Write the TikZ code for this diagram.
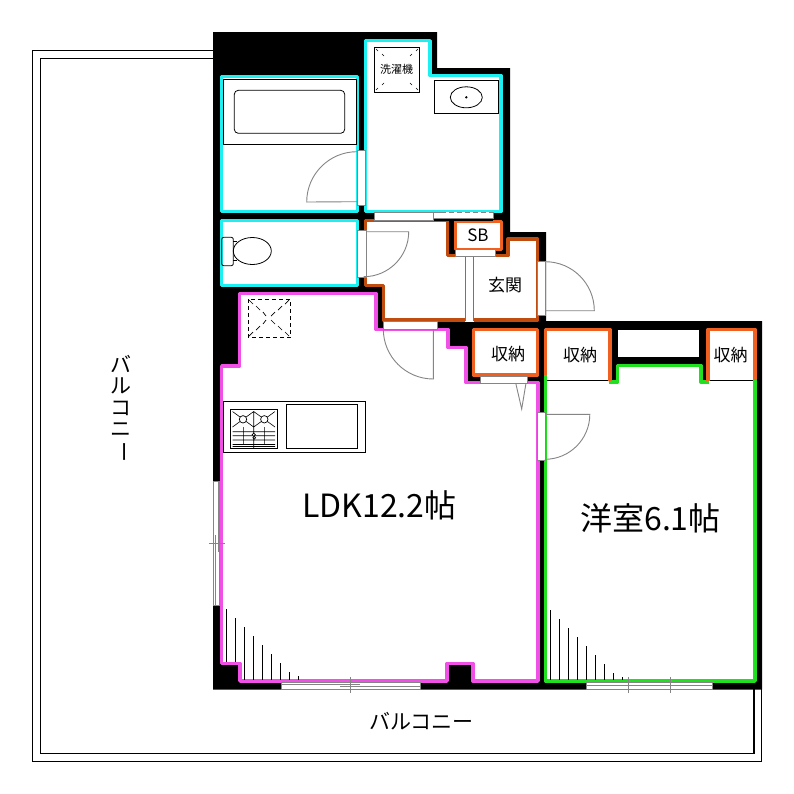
\documentclass[tikz,border=0pt]{standalone}
\usepackage{fontspec}
\setmainfont{Noto Sans CJK JP}
\usetikzlibrary{%
  calc,
  positioning
}
\definecolor{aqualine}{HTML}{1CF0F0}
\definecolor{pinkline}{HTML}{F050E6}
\definecolor{greenline}{HTML}{20E020}
\definecolor{orangeline}{HTML}{F06020}
\definecolor{brownline}{HTML}{C04C10}
\definecolor{doorgray}{HTML}{858585}
\begin{document}
\begin{tikzpicture}[x=1pt, y=-1pt,
    room/.style={fill=white, line width=3.4pt, line join=round},
    edgeline/.style={line width=3.4pt, line join=round},
    fixture/.style={draw=black, line width=.8pt},
    dooredge/.style={draw=doorgray, line width=.9pt},
    strip/.style={dooredge, fill=white},
    roomlabel/.style={inner sep=0pt, font=\fontsize{32}{32}\selectfont},
    smalllabel/.style={inner sep=0pt, font=\fontsize{17}{17}\selectfont},
    balconylabel/.style={inner sep=0pt, font=\fontsize{21}{21}\selectfont},
    hatchline/.style={black, line width=.8pt}]
    \useasboundingbox[fill=white] (0,0) rectangle (794,793);

    % balcony
    \draw[fixture, line width=1.1pt] (213,50.5) -- (32.5,50.5) -- (32.5,761.5) -- (761.7,761.5) -- (761.7,689);
    \draw[fixture, line width=1.1pt] (213,58.3) -- (40.5,58.3) -- (40.5,753.3) -- (754,753.3) -- (754,689);

    % walls
    \fill[black] (213,32) -- (437,32) -- (437,68) -- (510,68) -- (510,232) -- (546,232)
      -- (546,321) -- (762,321) -- (762,689.5) -- (213,689.5) -- cycle;

    % wet rooms
    \draw[room, draw=aqualine] (221.7,76.7) rectangle (357.5,211.5);
    \draw[room, draw=aqualine] (365.7,40.7) -- (430,40.7) -- (430,75.5) -- (501,75.5)
      -- (501,211.5) -- (365.7,211.5) -- cycle;
    \draw[room, draw=aqualine] (221.7,220.5) rectangle (357.5,285.5);

    % entrance
    \draw[room, draw=brownline] (365.5,220.5) -- (447.5,220.5) -- (447.5,255.5) -- (508,255.5)
      -- (508,239) -- (537.5,239) -- (537.5,320) -- (383.5,320) -- (383.5,285.5)
      -- (365.5,285.5) -- cycle;
    \draw[room, draw=orangeline] (455.5,221.5) rectangle (501.5,249.5);
    \fill[white] (465,256) rectangle (474,321.7);
    \draw[dooredge, draw=brownline!60!doorgray, line width=1pt] (465.5,257) -- (465.5,321) (473.7,257) -- (473.7,321);

    % living room
    \draw[room, draw=pinkline] (239.5,293.5) -- (376,293.5) -- (376,329.5) -- (448,329.5)
      -- (448,347.5) -- (466,347.5) -- (466,382.5) -- (538,382.5) -- (538,681)
      -- (473,681) -- (473,663.5) -- (447,663.5) -- (447,681) -- (240,681) -- (240,663.5)
      -- (221.7,663.5) -- (221.7,366) -- (239.5,366) -- cycle;
    \fill[black] (377.8,318) rectangle (382,328);

    % closets and bedroom
    \draw[room, draw=orangeline] (473.5,329.5) rectangle (537.5,375);
    \fill[white] (618,330) rectangle (699,357);
    \fill[white] (545.5,329.5) -- (610,329.5) -- (610,382) -- (617.5,382) -- (617.5,365.5) -- (701,365.5)
      -- (701,382) -- (708,382) -- (708,329.5) -- (755,329.5) -- (755,681) -- (545.5,681) -- cycle;
    \draw[edgeline, greenline] (545.5,375) -- (545.5,681) -- (755,681) -- (755,380);
    \draw[edgeline, greenline] (609,382) -- (617.5,382) -- (617.5,365.5) -- (701,365.5) -- (701,382) -- (709,382);
    \draw[edgeline, orangeline] (545.5,375) -- (545.5,329.5) -- (610,329.5) -- (610,381);
    \draw[edgeline, orangeline] (708,381) -- (708,329.5) -- (755,329.5) -- (755,380);
    \draw[fixture] (547,380) -- (608,380);
    \draw[fixture] (710,380) -- (753,380);

    % sliding door of the washroom
    \fill[black] (433,218) rectangle (493,221);
    \draw[strip] (374,212.5) rectangle (433,220.5);
    \draw[strip] (433,212.5) rectangle (493,218.3);
    \draw[white, line width=1.2pt] (441,212.5) -- (492.5,212.5);
    \draw[dooredge, dash pattern=on 5pt off 3pt] (441,212.5) -- (493,212.5);

    % doors
    \draw[strip] (357,150) rectangle (365.7,205);
    \draw[dooredge] (357,151.7) arc[start angle=270, end angle=180, radius=50.3] -- (357,201.7);
    \draw[strip] (357,230.7) rectangle (366,277);
    \draw[dooredge] (366,231.7) -- (408.7,231.7) arc[start angle=0, end angle=90, radius=45];
    \draw[strip] (537.7,261.7) rectangle (545.3,315.7);
    \draw[dooredge] (545.3,261.7) arc[start angle=270, end angle=360, radius=49] -- (545.3,310.7);
    \draw[strip] (383.3,321.7) rectangle (437,329.3);
    \draw[dooredge] (433.3,329.3) -- (433.3,379) arc[start angle=90, end angle=180, radius=50];
    \draw[strip] (537.7,412) rectangle (545.3,460);
    \draw[dooredge] (545.3,414.3) -- (589.8,414.3) arc[start angle=0, end angle=90, radius=45];
    \draw[strip] (455,249.3) rectangle (495.7,256.7);
    \draw[strip] (480,376) rectangle (527,383);
    \draw[dooredge] (515.7,383) -- (521.7,409) -- (526,383);

    % windows
    \draw[strip] (213.5,481.7) rectangle (219.8,605);
    \draw[dooredge] (209,543.5) -- (225,543.5) (215.5,535) -- (215.5,605) (218.3,481.7) -- (218.3,552);
    \draw[strip] (281.7,682.7) rectangle (420.7,689);
    \draw[dooredge] (281.7,684.5) -- (360,684.5) (340,686.7) -- (420.7,686.7)
      (350.3,677) -- (350.3,692.7);
    \draw[strip] (586.7,682.7) rectangle (712.7,689.3);
    \draw[dooredge] (586.7,685.5) -- (712.7,685.5);
    \foreach \tickx in {628.3,670.3}
      \draw[dooredge] (\tickx,677) -- (\tickx,692.7);

    % swing of the sliding windows
    \foreach \i[evaluate={\hx=226.3+9*\i; \hy=609.3+9*\i; \hb=(\i<2)?662:680}] in {0,...,7}
      \draw[hatchline] (\hx,\hy) -- (\hx,\hb);
    \draw[hatchline] (298.3,676.3) -- (298.3,680);
    \foreach \i[evaluate={\hx=550.3+9*\i; \hy=610+9*\i}] in {0,...,7}
      \draw[hatchline] (\hx,\hy) -- (\hx,680);
    \draw[hatchline] (622.3,677) -- (622.3,680);

    % bath and washroom fixtures
    \draw[fixture] (223.3,79.3) rectangle (356.7,144.3);
    \draw[fixture, rounded corners=4pt] (234.3,90.3) rectangle (344.7,133.3);
    \draw[fixture] (374.3,47.3) rectangle (419.7,92.3);
    \foreach \ax/\ay/\bx/\by in {376/49/378/51, 382/54/384/56, 418/49/416/51, 412/54/410/56,
        376/90/378/88, 382/85/384/83, 418/90/416/88, 412/85/410/83}
      \draw[black, line width=.6pt] (\ax,\ay) -- (\bx,\by);
    \node[inner sep=0pt, font=\fontsize{11}{11}\selectfont] (washer) at (396.7,69.7) {洗濯機};
    \draw[fixture] (434.3,80.3) rectangle (498.7,113.3);
    \draw[fixture] (466.3,97.3) ellipse[x radius=16, y radius=10.5];
    \fill[black] (466.3,97.3) circle[radius=1.3];
    \draw[fixture] (233.3,241.7) -- (237,241.7) (233.3,260.7) -- (237,260.7);
    \draw[fixture, rounded corners=2pt] (221.7,237.3) rectangle (233.3,265.7);
    \draw[fixture] (252.3,251) ellipse[x radius=19, y radius=13.5];

    % kitchen
    \draw[fixture, dash pattern=on 4pt off 3pt] (248.3,299) rectangle (290.3,337.3);
    \foreach \ax/\ay/\bx/\by in {249/300/253/304, 256/306/260/310, 263/312/266/316,
        289/300/285/304, 282/306/278/310, 275/312/271/316,
        249/336/253/332, 256/330/260/326, 263/324/266/320,
        289/336/285/332, 282/330/278/326, 275/324/271/320}
      \draw[black, line width=.7pt] (\ax,\ay) -- (\bx,\by);
    \draw[fixture] (223.3,401.3) rectangle (365.7,452.3);
    \draw[fixture] (286.3,404.3) rectangle (357.7,448.7);
    \draw[fixture, line width=1.2pt] (230.8,409.8) rectangle (277.2,448.2);
    \draw[black, line width=.6pt] (232.5,411.5) -- (253.7,427) -- (275,411.5)
      (232.5,427) -- (253.7,411.5) -- (275,427)
      (232.5,431.7) -- (275,431.7) (232.5,435.7) -- (275,435.7) (232.5,440) -- (275,440)
      (232.5,444.5) -- (275,444.5) (232.5,446.5) -- (275,446.5)
      (243.3,427) -- (243.3,444.5) (253.7,411.5) -- (253.7,448) (264.3,427) -- (264.3,444.5);
    \foreach \burnx in {243,264.3}
      \draw[black, fill=white, line width=.7pt] (\burnx,419.3) circle[radius=3.7];
    \draw[black, fill=white, line width=.7pt] (253.7,434.7) circle[radius=1.6];
    \draw[black, fill=white, line width=.7pt] (254.2,437.7) circle[radius=1.4];

    % labels
    \node[roomlabel] (ldk) at (379.5,505) {LDK12.2帖};
    \node[roomlabel] (western) at (650.5,518) {洋室6.1帖};
    \node[smalllabel] (genkan) at (505,285.5) {玄関};
    \node[smalllabel] (sb) at (478,235) {SB};
    \node[smalllabel] (closeta) at (508,354.5) {収納};
    \node[smalllabel] (closetb) at (580,355) {収納};
    \node[smalllabel] (closetc) at (730.5,355) {収納};
    \node[balconylabel] (balconybottom) at (421.5,721) {バルコニー};
    \foreach \ch[count=\i from 0, evaluate={\ly=364+22*\i}] in {バ,ル,コ,ニ,\rotatebox{-90}{ー}}
      \node[balconylabel] (balconyleft\i) at (121,\ly) {\ch};
\end{tikzpicture}
\end{document}
